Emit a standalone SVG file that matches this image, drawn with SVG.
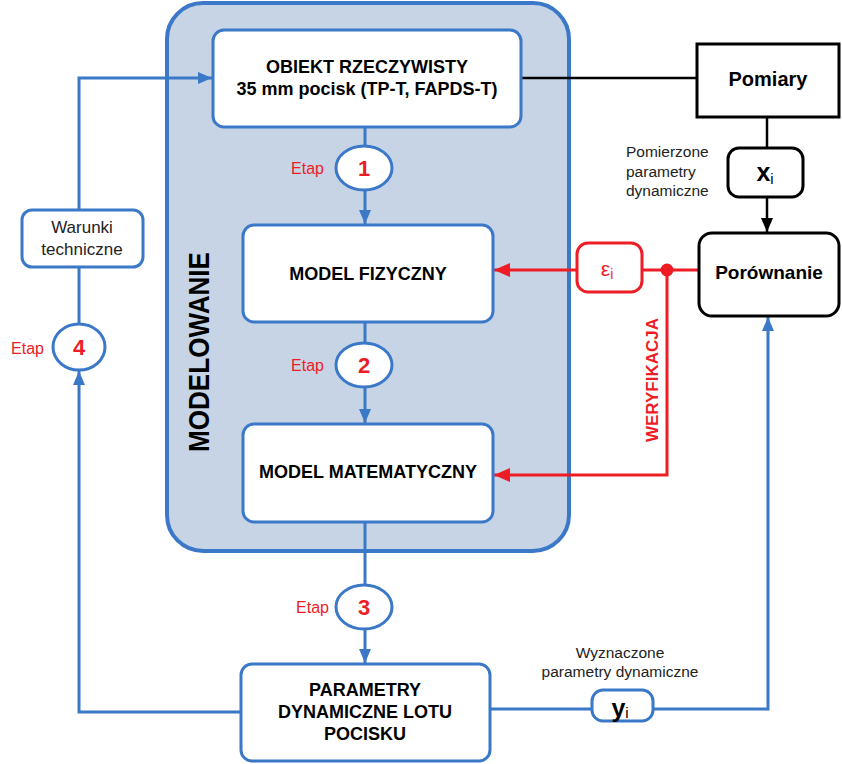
<svg xmlns="http://www.w3.org/2000/svg" width="842" height="764" viewBox="0 0 842 764">
<style>
text{font-family:"Liberation Sans",Arial,sans-serif}
.cont{fill:#c6d4e5;stroke:#3b78c8;stroke-width:4}
.bbox{fill:#fff;stroke:#3b78c8;stroke-width:3}
.kbox{fill:#fff;stroke:#000;stroke-width:3}
.rbox{fill:#fff;stroke:#ee1c24;stroke-width:3}
.bl{fill:none;stroke:#3b78c8;stroke-width:3}
.kl{fill:none;stroke:#000;stroke-width:2.5}
.rl{fill:none;stroke:#ee1c24;stroke-width:3}
.t{font-size:18px;font-weight:bold;fill:#000;text-anchor:middle}
.etap{font-size:16px;fill:#ee1c24;text-anchor:end}
.num{font-size:22px;font-weight:bold;fill:#ee1c24;text-anchor:middle}
.n{font-size:15.5px;fill:#222}
</style>
<defs>
<marker id="ab" markerUnits="userSpaceOnUse" markerWidth="14" markerHeight="12" viewBox="0 0 14 12" refX="14" refY="6" orient="auto"><path d="M0,0 L14,6 L0,12 Z" fill="#3b78c8"/></marker>
<marker id="ak" markerUnits="userSpaceOnUse" markerWidth="14" markerHeight="12" viewBox="0 0 14 12" refX="14" refY="6" orient="auto"><path d="M0,0 L14,6 L0,12 Z" fill="#000"/></marker>
<marker id="ar" markerUnits="userSpaceOnUse" markerWidth="16" markerHeight="14" viewBox="0 0 16 14" refX="16" refY="7" orient="auto"><path d="M0,0 L16,7 L0,14 Z" fill="#ee1c24"/></marker>
</defs>

<g id="modelowanie">
<rect class="cont" x="167" y="3" width="402" height="548" rx="36"/>
<text transform="translate(209,352) rotate(-90)" font-size="29" font-weight="bold" text-anchor="middle" textLength="200" lengthAdjust="spacingAndGlyphs">MODELOWANIE</text>
</g>

<g id="connectors">
<path class="bl" d="M365,127 V146"/>
<path class="bl" d="M365,190 V224" marker-end="url(#ab)"/>
<path class="bl" d="M365,322 V343"/>
<path class="bl" d="M365,387 V423" marker-end="url(#ab)"/>
<path class="bl" d="M365,522 V585"/>
<path class="bl" d="M365,629 V663" marker-end="url(#ab)"/>
<path class="bl" d="M241,712 H79 V371" marker-end="url(#ab)"/>
<path class="bl" d="M79,324 V267"/>
<path class="bl" d="M79,210 V78 H212" marker-end="url(#ab)"/>
<path class="bl" d="M490,709 H592"/>
<path class="bl" d="M653,709 H768 V317" marker-end="url(#ab)"/>
<path class="kl" d="M521,78 H697"/>
<path class="kl" d="M767,117 V148"/>
<path class="kl" d="M767,197 V232" marker-end="url(#ak)"/>
<path class="rl" d="M699,270 H642"/>
<path class="rl" d="M577,270 H494" marker-end="url(#ar)"/>
<path class="rl" d="M667,270 V475 H494" marker-end="url(#ar)"/>
<circle cx="667" cy="270" r="6.5" fill="#ee1c24"/>
<text transform="translate(658,380) rotate(-90)" font-size="17" font-weight="bold" fill="#ee1c24" text-anchor="middle">WERYFIKACJA</text>
</g>

<g id="obiekt">
<rect class="bbox" x="213" y="30" width="308" height="97" rx="11"/>
<text class="t" x="367" y="73">OBIEKT RZECZYWISTY</text>
<text class="t" x="367" y="95">35 mm pocisk (TP-T, FAPDS-T)</text>
</g>

<g id="etap1">
<ellipse class="bbox" cx="364" cy="168" rx="28" ry="22"/>
<text class="num" x="364" y="176">1</text>
<text class="etap" x="324" y="174">Etap</text>
</g>

<g id="model-fizyczny">
<rect class="bbox" x="243" y="225" width="250" height="97" rx="11"/>
<text class="t" x="368" y="280">MODEL FIZYCZNY</text>
</g>

<g id="etap2">
<ellipse class="bbox" cx="364" cy="365" rx="28" ry="22"/>
<text class="num" x="364" y="373">2</text>
<text class="etap" x="324" y="371">Etap</text>
</g>

<g id="model-matematyczny">
<rect class="bbox" x="243" y="424" width="250" height="98" rx="11"/>
<text class="t" x="368" y="478">MODEL MATEMATYCZNY</text>
</g>

<g id="etap3">
<ellipse class="bbox" cx="364" cy="607" rx="28" ry="22"/>
<text class="num" x="364" y="615">3</text>
<text class="etap" x="329" y="613">Etap</text>
</g>

<g id="parametry">
<rect class="bbox" x="241" y="664" width="249" height="97" rx="11"/>
<text class="t" x="365" y="696">PARAMETRY</text>
<text class="t" x="365" y="718">DYNAMICZNE LOTU</text>
<text class="t" x="365" y="740">POCISKU</text>
</g>

<g id="etap4">
<ellipse class="bbox" cx="79" cy="347" rx="26" ry="23"/>
<text class="num" x="79" y="355">4</text>
<text class="etap" x="44" y="354">Etap</text>
</g>

<g id="warunki">
<rect class="bbox" x="22" y="210" width="121" height="57" rx="10"/>
<text x="82" y="233" font-size="17" fill="#222" text-anchor="middle">Warunki</text>
<text x="82" y="255" font-size="17" fill="#222" text-anchor="middle">techniczne</text>
</g>

<g id="pomiary">
<rect class="kbox" x="697" y="44" width="142" height="73"/>
<text x="768" y="86" font-size="20" font-weight="bold" text-anchor="middle">Pomiary</text>
</g>

<g id="xi">
<rect class="kbox" x="728" y="148" width="75" height="49" rx="11"/>
<text x="765" y="181" font-size="25" font-weight="bold" text-anchor="middle">x<tspan font-size="15" font-weight="normal" dy="3">i</tspan></text>
<text class="n" x="626" y="157">Pomierzone</text>
<text class="n" x="626" y="177">parametry</text>
<text class="n" x="626" y="196">dynamiczne</text>
</g>

<g id="porownanie">
<rect class="kbox" x="699" y="233" width="140" height="83" rx="13"/>
<text x="769" y="279" font-size="19" font-weight="bold" text-anchor="middle">Porównanie</text>
</g>

<g id="epsilon">
<rect class="rbox" x="577" y="243" width="65" height="49" rx="11"/>
<text x="607" y="276" font-size="21" fill="#ee1c24" text-anchor="middle">ε<tspan font-size="14" dy="3">i</tspan></text>
</g>

<g id="yi">
<rect class="bbox" x="592" y="690" width="61" height="31" rx="11"/>
<text x="620" y="717" font-size="25" font-weight="bold" text-anchor="middle">y<tspan font-size="15" font-weight="normal" dy="1">i</tspan></text>
<text class="n" x="620" y="658" text-anchor="middle" font-size="14.5">Wyznaczone</text>
<text class="n" x="620" y="677" text-anchor="middle" font-size="14.5">parametry dynamiczne</text>
</g>
</svg>
